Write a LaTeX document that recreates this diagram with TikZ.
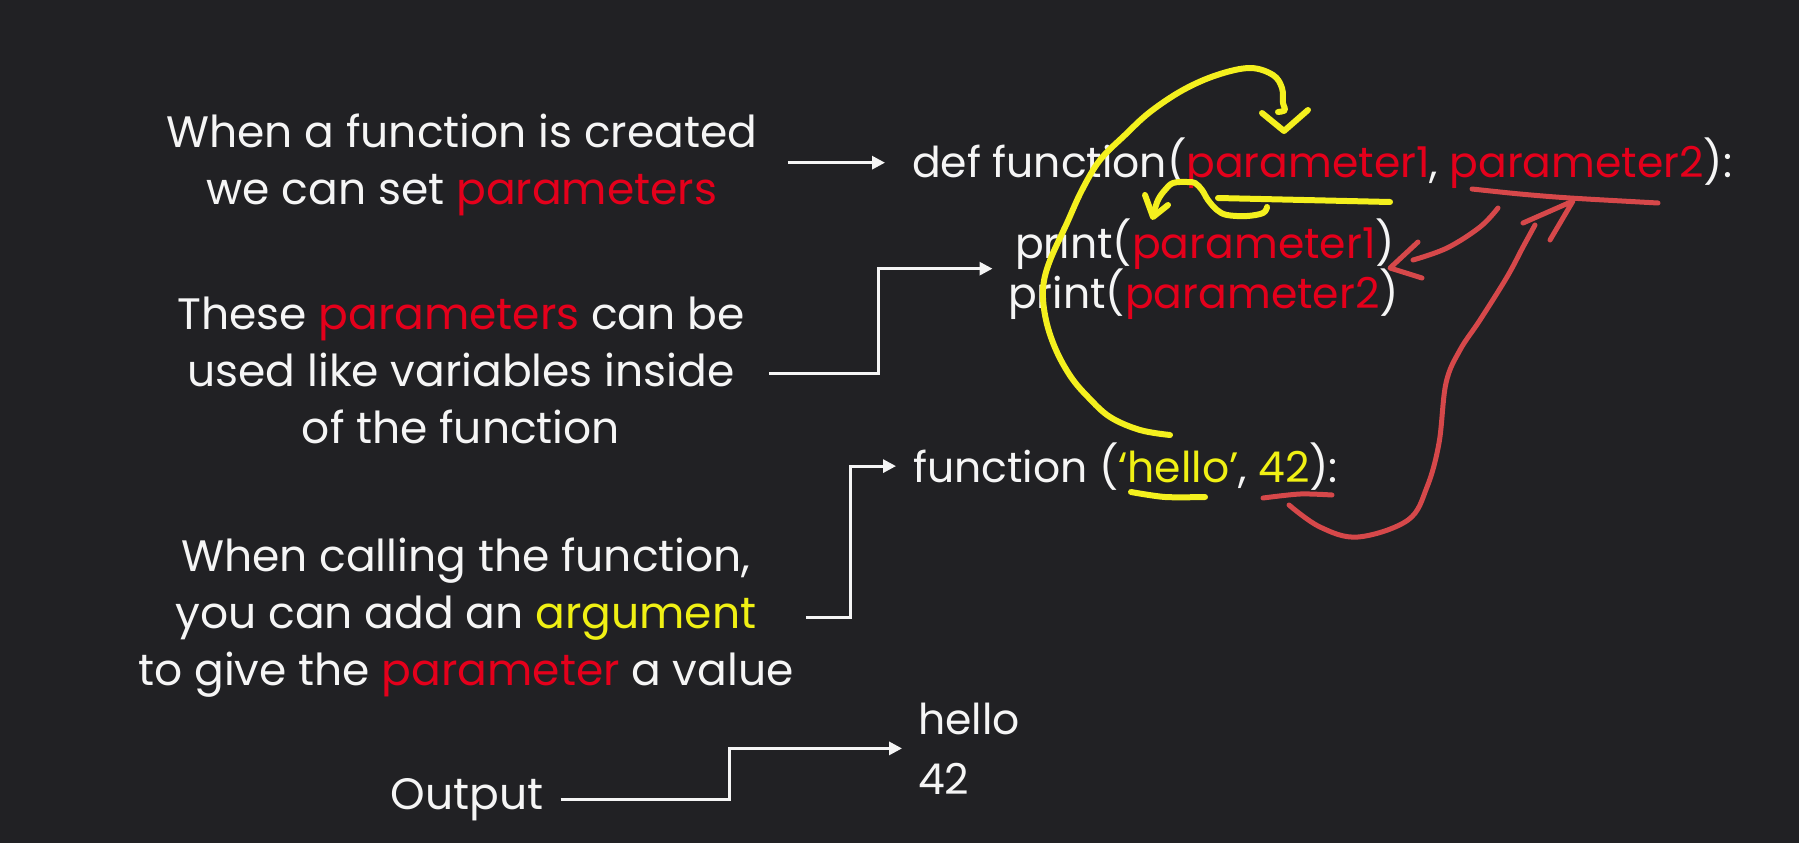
\documentclass[tikz,border=0pt]{standalone}
\usepackage{fontspec}
\setmainfont{Poppins}
\usetikzlibrary{arrows.meta,calc}
\definecolor{bg}{RGB}{33,33,36}
\definecolor{txt}{RGB}{245,245,245}
\definecolor{pred}{RGB}{228,0,27}
\definecolor{pyel}{RGB}{240,240,20}
\definecolor{inkyel}{RGB}{244,240,30}
\definecolor{inkred}{RGB}{214,72,74}
\newcommand{\pr}[1]{\textcolor{pred}{#1}}
\newcommand{\py}[1]{\textcolor{pyel}{#1}}
\begin{document}
\begin{tikzpicture}[x=1pt,y=-1pt,
  lbl/.style={text=txt,inner sep=0pt,font=\fontsize{44}{57}\selectfont},
  blk/.style={lbl,align=center,anchor=base},
  code/.style={lbl,anchor=base west,font=\fontsize{42.5}{57}\selectfont},
  conn/.style={draw=txt,line width=3pt,-{Triangle[length=13pt,width=13pt]}},
  yink/.style={draw=inkyel,line width=6pt,line cap=round,line join=round},
  rink/.style={draw=inkred,line width=5pt,line cap=round,line join=round}]

\fill[bg] (0,0) rectangle (1799,843);
\useasboundingbox (0,0) rectangle (1799,843);

% explanations on the left (each placed by the baseline of its last line)
\node[blk] (b1) at (462,204) {When a function is created\\we can set \pr{parameters}};
\node[blk] (b2) at (461,443) {These \pr{parameters} can be\\used like variables inside\\of the function};
\node[blk] (b3) at (466,685) {When calling the function,\\you can add an \py{argument}\\to give the \pr{parameter} a value};
\node[lbl,anchor=base] (out) at (467,809) {Output};

% code on the right
\node[code] (def) at (912,177) {def function(\pr{parameter1}, \pr{parameter2}):};
\node[code] (p1) at (1015,258) {print(\pr{parameter1})};
\node[code] (p2) at (1008,308) {print(\pr{parameter2})};
\node[code] (call) at (913,482) {function (\py{‘hello’}, \py{42}):};
\node[code] (o1) at (918,734) {hello};
\node[code] (o2) at (918,794) {42};

% connectors
\draw[conn] (b1.east |- def.west) ++(30,0) -- ([xshift=-27pt]def.west);
\coordinate (bodymid) at ($(p1.west)!0.5!(p2.west)$);
\draw[conn] ([xshift=24pt,yshift=-4pt]b2.east) -- ++(110,0) |- ([xshift=-19pt]bodymid);
\draw[conn] ([xshift=12pt]b3.east) -- ++(45,0) |- ([xshift=-17pt]call.west);
\coordinate (outmid) at ($(o1.west)!0.5!(o2.west)$);
\draw[conn] ([xshift=17pt]out.east) -- ++(169,0) |- ([xshift=-16pt]outmid);

% yellow ink: argument flows into the first parameter
\draw[yink] plot[smooth,tension=0.6] coordinates {(1170,435) (1140,430) (1110,417) (1088,397) (1071,377) (1056,350) (1046,320) (1043,290) (1049,263) (1067,223) (1082,190) (1100,160) (1125,135) (1150,112) (1183,90) (1217,75) (1250,68) (1273,75) (1282,88) (1283,103) (1285,110) (1278,112)};
\draw[yink] (1262,113) -- (1284,131) -- (1308,110);
\draw[yink] plot[smooth,tension=0.5] coordinates {(1131,492) (1165,497) (1205,497)};
\draw[yink] (1390,202) -- (1218,198);
\draw[yink] plot[smooth,tension=0.6] coordinates {(1267,207) (1263,213) (1247,216) (1227,215) (1217,210) (1208,200) (1202,190) (1195,183) (1187,182) (1173,183) (1165,190) (1158,200) (1153,215)};
\draw[yink] (1145,195) -- (1153,217) -- (1168,205);

% red ink: second argument and second parameter
\draw[rink] plot[smooth,tension=0.5] coordinates {(1472,189) (1520,194) (1570,198) (1658,203)};
\draw[rink] plot[smooth,tension=0.6] coordinates {(1498,208) (1480,227) (1447,248) (1413,260)};
\draw[rink] (1418,242) -- (1390,268) -- (1422,278);
\draw[rink] plot[smooth,tension=0.5] coordinates {(1263,498) (1300,494) (1332,495)};
\draw[rink] plot[smooth,tension=0.6] coordinates {(1289,505) (1320,527) (1358,537) (1408,520) (1427,487) (1439,443) (1446,383) (1460,350) (1480,320) (1507,277) (1523,247) (1535,225)};
\draw[rink] (1523,223) -- (1573,201) -- (1550,240);
\end{tikzpicture}
\end{document}
